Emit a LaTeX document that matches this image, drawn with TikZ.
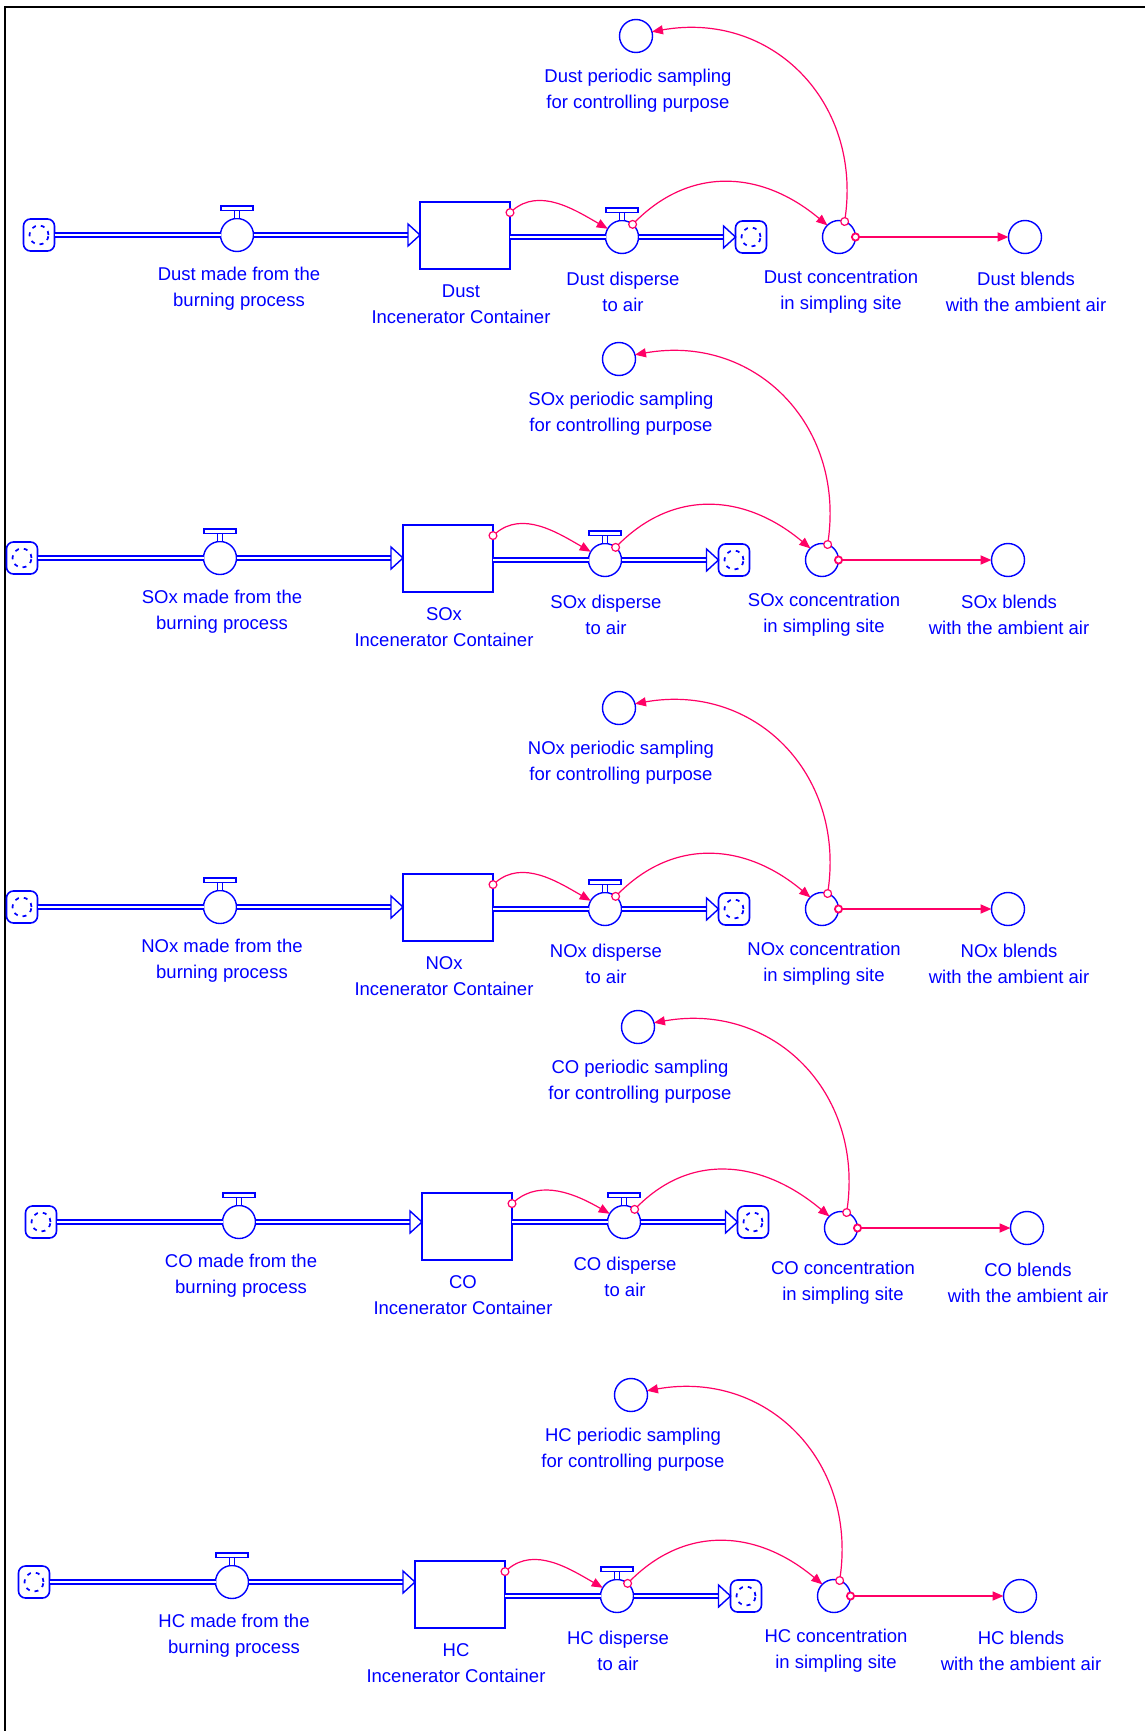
\documentclass[tikz,border=0pt]{standalone}
\usepackage{fontspec}
\setmainfont{Liberation Sans}
\usetikzlibrary{arrows.meta,calc}
\definecolor{vblue}{RGB}{0,0,255}
\definecolor{vpink}{RGB}{255,0,102}
\newcommand\lblfont{\fontsize{18.5pt}{26pt}\selectfont}
\tikzset{
  blueline/.style={draw=vblue, line width=1.4pt},
  valve/.style={circle, blueline, fill=white, minimum size=33pt, inner sep=0pt, outer sep=0pt},
  aux/.style={circle, blueline, fill=white, minimum size=33pt, inner sep=0pt, outer sep=0pt},
  stockbox/.style={rectangle, blueline, fill=white, minimum width=90pt, minimum height=67pt, inner sep=0pt, outer sep=0pt},
  cloud/.style={rectangle, draw=vblue, line width=1.6pt, rounded corners=7pt, fill=white, minimum width=31pt, minimum height=32pt, inner sep=0pt, outer sep=0pt,
    path picture={\draw[vblue, line width=1.7pt, dash pattern=on 4pt off 5pt, rotate=20] (path picture bounding box.center) circle (9.5pt);}},
  lbl/.style={text=vblue, font=\lblfont, align=center, inner sep=0pt},
  flowline/.style={draw=vblue, line width=1.4pt, double=white, double distance=2.8pt},
  flowhead/.style={blueline, fill=white, line join=miter},
  info/.style={draw=vpink, line width=1.2pt, shorten <=-4.5pt,
    arrows={Circle[length=9pt,width=9pt,fill=white]-Triangle[length=11pt,width=9pt]}},
}
\newcommand\valvetop[1]{%
  \draw[blueline, fill=white] ($(#1.north)+(-2.5,0)$) rectangle ($(#1.north)+(2.5,-8)$);
  \draw[blueline, fill=white] ($(#1.north)+(-16,-8)$) rectangle ($(#1.north)+(16,-12.5)$);
}
\newcommand\sdrow[5]{%
  \def\rdx{#2}\def\rdy{#3}\def\rin{#4}\def\rout{#5}%
  \node[cloud] (#1Src) at ({39+(\rdx)},{235+(\rdy)+(\rin)}) {};
  \node[valve] (#1In) at ({237+(\rdx)},{235+(\rdy)+(\rin)}) {};
  \node[stockbox] (#1Stock) at ({465+(\rdx)},{235.5+(\rdy)}) {};
  \node[valve] (#1Out) at ({622+(\rdx)},{237+(\rdy)+(\rout)}) {};
  \node[cloud] (#1Sink) at ({751+(\rdx)},{237+(\rdy)+(\rout)}) {};
  \node[aux] (#1Conc) at ({839+(\rdx)},{237+(\rdy)}) {};
  \node[aux] (#1Blend) at ({1025+(\rdx)},{237+(\rdy)}) {};
  \node[aux] (#1Samp) at ({636+(\rdx)},{36+(\rdy)}) {};
  \node[lbl] (#1InL) at ({239+(\rdx)},{289+(\rdy)+(\rin)}) {#1 made from the\\burning process};
  \node[lbl] (#1StockL) at ({461+(\rdx)},{304.5+(\rdy)}) {#1\\Incenerator Container};
  \node[lbl] (#1OutL) at ({623+(\rdx)},{291.5+(\rdy)+(\rout)}) {#1 disperse\\to air};
  \node[lbl] (#1ConcL) at ({841+(\rdx)},{291.5+(\rdy)}) {#1 concentration\\in simpling site};
  \node[lbl] (#1BlendL) at ({1026+(\rdx)},{291.5+(\rdy)}) {#1 blends\\with the ambient air};
  \node[lbl] (#1SampL) at ({638+(\rdx)},{91+(\rdy)}) {#1 periodic sampling\\for controlling purpose};
  \coordinate (#1Tip) at (#1In -| #1Stock.west);
  \draw[flowline] (#1Src) -- (#1In);
  \draw[flowline, shorten >=12pt] (#1In) -- (#1Tip);
  \draw[flowhead] ($(#1Tip)+(-12,-11)$) -- (#1Tip) -- ($(#1Tip)+(-12,11)$) -- cycle;
  \coordinate (#1OutStart) at (#1Out -| #1Stock.east);
  \draw[flowline] (#1OutStart) -- (#1Out);
  \draw[flowline, shorten >=12pt] (#1Out) -- (#1Sink.west);
  \draw[flowhead] ($(#1Sink.west)+(-12,-11)$) -- (#1Sink.west) -- ($(#1Sink.west)+(-12,11)$) -- cycle;
  \valvetop{#1In}\valvetop{#1Out}
  \draw[info] (#1Stock.27) to[out=40,in=150] (#1Out.150);
  \draw[info] (#1Out.50) to[out=45,in=140,looseness=1.1] (#1Conc.135);
  \draw[info] (#1Conc.70) to[out=82,in=10,looseness=1.15] (#1Samp.15);
  \draw[info, line width=1.8pt] (#1Conc.east) -- (#1Blend.west);
}
\begin{document}
\begin{tikzpicture}[x=1pt,y=-1pt]
  \useasboundingbox[fill=white] (0,0) rectangle (1145,1731);
  \draw[black, line width=2.5pt] (5,1731) -- (5,7) -- (1145,7);
  \sdrow{Dust}{0}{0}{0}{0}
  \sdrow{SOx}{-17}{323}{0}{0}
  \sdrow{NOx}{-17}{672}{0}{0}
  \sdrow{CO}{2}{991}{-4}{-6}
  \sdrow{HC}{-5}{1359}{-12}{0}
\end{tikzpicture}
\end{document}
